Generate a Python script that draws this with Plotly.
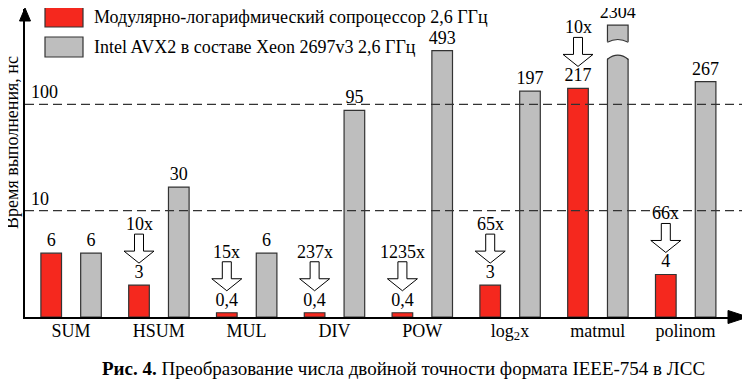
import numpy as np
import plotly.graph_objects as go

# ---------------- data ----------------
categories = ["SUM", "HSUM", "MUL", "DIV", "POW", "log<sub>2</sub>x", "matmul", "polinom"]
coproc_ns = [6, 3, 0.4, 0.4, 0.4, 3, 217, 4]          # Модулярно-логарифмический сопроцессор
avx2_ns = [6, 30, 6, 95, 493, 197, 2304, 267]          # Intel AVX2 (Xeon 2697v3)
speedups = ["", "10x", "15x", "237x", "1235x", "65x", "10x", "66x"]
grid_values = [10, 100]

series_names = ["Модулярно-логарифмический сопроцессор 2,6 ГГц",
                "Intel AVX2 в составе Xeon 2697v3 2,6 ГГц"]
y_title = "Время выполнения, нс"
caption = "<b>Рис. 4.</b> Преобразование числа двойной точности формата IEEE-754 в ЛСС"

# ---------------- piecewise (compressed) value scale ----------------
SCALE_VALUES = [0, 10, 100, 1000]
SCALE_DISPLAY = [0, 10, 20, 31.57]
Y_CAP = 27.45  # bars above this are drawn broken


def disp(v):
    return float(min(np.interp(v, SCALE_VALUES, SCALE_DISPLAY), Y_CAP))


def fmt(v):
    return str(v).replace(".", ",")


RED = "#F5281E"
GRAY = "#BEBEBE"
EDGE = "#333333"
FONT = "Times New Roman"
FS = 18

# page body margin offset (the figure div starts 8px in from the window corner)
OFF = 8
W, H = 750 - OFF, 382 - OFF
# plot area in window pixels: left 25, right 746, top 9, bottom 317
L = 25 - OFF
R = W - (746 - OFF)
T = 9 - OFF
B = H - (317 - OFF)
PW, PH = W - L - R, H - T - B
SLOT = 87.8
PX_PER_UNIT = 10.63
X0 = -0.524

BAR_W = 0.235
RED_OFF = -0.343
GRAY_OFF = 0.11

xs = np.arange(len(categories))
txtfont = dict(family=FONT, size=FS, color="black")

fig = go.Figure()
fig.add_trace(go.Bar(
    x=xs, y=[disp(v) for v in coproc_ns], width=BAR_W, offset=RED_OFF,
    marker=dict(color=RED, line=dict(color=EDGE, width=1.2)),
    text=[fmt(v) for v in coproc_ns], textposition="outside", constraintext="none",
    textfont=txtfont, outsidetextfont=txtfont, cliponaxis=False,
    name=series_names[0], showlegend=False, hoverinfo="skip"))
fig.add_trace(go.Bar(
    x=xs, y=[disp(v) for v in avx2_ns], width=BAR_W, offset=GRAY_OFF,
    marker=dict(color=GRAY, line=dict(color=EDGE, width=1.2)),
    text=[fmt(v) for v in avx2_ns], textposition="outside", constraintext="none",
    textfont=txtfont, outsidetextfont=txtfont, cliponaxis=False,
    name=series_names[1], showlegend=False, hoverinfo="skip"))


def px2x(px):
    # window pixel -> paper x
    return (px - OFF - L) / PW


def py2y(py):
    # window pixel -> paper y
    return (H - B - (py - OFF)) / PH


shapes = []
annotations = []

# dashed reference lines + their labels
for gv in grid_values:
    shapes.append(dict(type="line", xref="paper", yref="y", x0=0, x1=1, y0=disp(gv), y1=disp(gv),
                       line=dict(color="#333333", width=1.3, dash="9px,5px"), layer="above"))
    annotations.append(dict(text=str(gv), xref="paper", yref="y", x=px2x(29), y=disp(gv),
                            xanchor="left", yanchor="middle", yshift=12, showarrow=False,
                            font=txtfont))

# speed-up arrows above coprocessor bars
for i, (v, s) in enumerate(zip(coproc_ns, speedups)):
    if not s:
        continue
    cx = i + RED_OFF + BAR_W / 2
    cy = disp(v)
    shapes.append(dict(type="path", xref="x", yref="y", xsizemode="pixel", ysizemode="pixel",
                       xanchor=cx, yanchor=cy,
                       path="M 0,22 L -15,34 L -4.5,34 L -4.5,51 L 4.5,51 L 4.5,34 L 15,34 Z",
                       fillcolor="white", line=dict(color="black", width=1), layer="above"))
    annotations.append(dict(text=s, xref="x", yref="y", x=cx, y=cy, yshift=61,
                            xanchor="center", yanchor="middle", showarrow=False,
                            font=txtfont))

# broken bar marks for values beyond the cap
for i, v in enumerate(avx2_ns):
    if np.interp(v, SCALE_VALUES, SCALE_DISPLAY) <= Y_CAP:
        continue
    cx = i + GRAY_OFF + BAR_W / 2
    shapes.append(dict(type="path", xref="x", yref="y", xsizemode="pixel", ysizemode="pixel",
                       xanchor=cx, yanchor=Y_CAP,
                       path="M -12,-34.3 Q 0,-25.7 12,-34.3 L 12,-17 Q 0,-11.6 -12,-17 Z",
                       fillcolor="white", line=dict(width=0), layer="above"))
    for p in ["M -10.5,-34.3 Q 0,-25.7 10.5,-34.3", "M -10.5,-17 Q 0,-11.6 10.5,-17"]:
        shapes.append(dict(type="path", xref="x", yref="y", xsizemode="pixel", ysizemode="pixel",
                           xanchor=cx, yanchor=Y_CAP, path=p,
                           line=dict(color=EDGE, width=1.2), layer="above"))

# axis arrow heads
shapes.append(dict(type="path", xref="paper", yref="paper", xsizemode="pixel", ysizemode="pixel",
                   xanchor=0, yanchor=1, path="M -5.5,-12 L 0,1 L 5.5,-12 Z",
                   fillcolor="black", line=dict(color="black", width=1), layer="above"))
shapes.append(dict(type="path", xref="paper", yref="paper", xsizemode="pixel", ysizemode="pixel",
                   xanchor=1, yanchor=0, path="M -18,6.5 L 2,0 L -18,-6.5 Z",
                   fillcolor="black", line=dict(color="black", width=1), layer="above"))

# manual legend
for k, (name, col) in enumerate(zip(series_names, [RED, GRAY])):
    top = 7 + 30 * k
    shapes.append(dict(type="rect", xref="paper", yref="paper",
                       x0=px2x(45), x1=px2x(83), y0=py2y(top + 20), y1=py2y(top),
                       fillcolor=col, line=dict(color=EDGE, width=1.2), layer="above"))
    annotations.append(dict(text=name, xref="paper", yref="paper", x=px2x(92), y=py2y(top + 10),
                            xanchor="left", yanchor="middle", showarrow=False,
                            font=txtfont))

# y title and caption
annotations.append(dict(text=y_title, xref="paper", yref="paper", x=px2x(12), y=py2y(143),
                        xanchor="center", yanchor="middle", textangle=-90, showarrow=False,
                        font=txtfont))
annotations.append(dict(text=caption, xref="paper", yref="paper", x=px2x(403), y=py2y(368),
                        xanchor="center", yanchor="middle", showarrow=False,
                        font=dict(family=FONT, size=19, color="black")))

fig.update_layout(
    width=W, height=H, margin=dict(l=L, r=R, t=T, b=B),
    font=dict(family=FONT, size=FS, color="black"),
    paper_bgcolor="white", plot_bgcolor="white",
    barmode="overlay", showlegend=False,
    shapes=shapes, annotations=annotations,
    xaxis=dict(range=[X0, X0 + PW / SLOT], tickvals=xs, ticktext=categories,
               showgrid=False, zeroline=False, showline=True, linecolor="black", linewidth=2,
               ticks="", tickfont=txtfont, ticklabelstandoff=-4),
    yaxis=dict(range=[0, PH / PX_PER_UNIT], showticklabels=False, showgrid=False, zeroline=False,
               showline=True, linecolor="black", linewidth=2, ticks=""),
)

fig.write_html("out.html")
